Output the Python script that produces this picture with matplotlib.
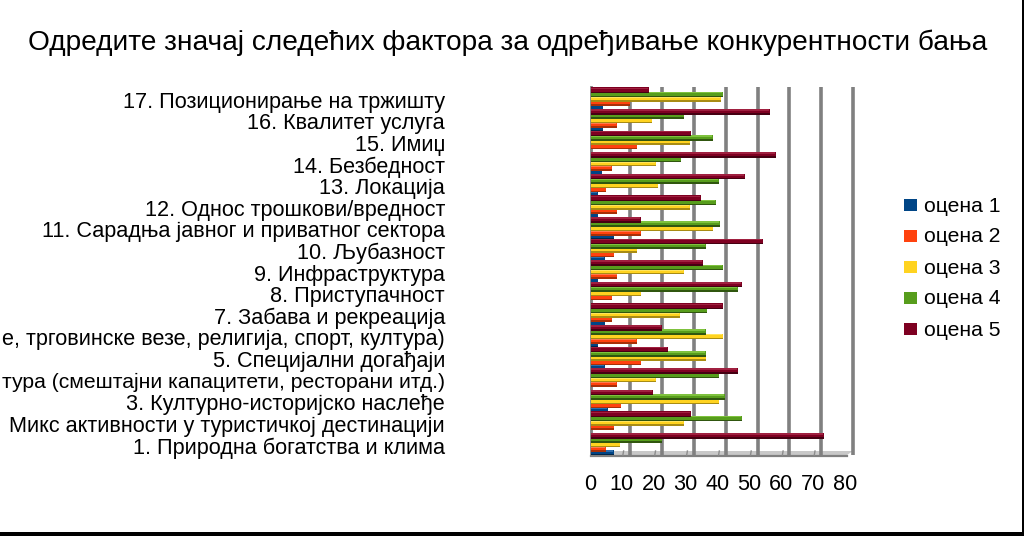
import matplotlib
matplotlib.use('Agg')
import matplotlib.pyplot as plt
from matplotlib.transforms import ScaledTranslation
import numpy as np

plt.rcParams['font.family'] = ['Liberation Sans', 'DejaVu Sans']

title = 'Одредите значај следећих фактора за одређивање конкурентности бања'
categories = [
    '1. Природна богатства и клима',
    'Микс активности у туристичкој дестинацији',
    '3. Културно-историјско наслеђе',
    'тура (смештајни капацитети, ресторани итд.)',
    '5. Специјални догађаји',
    'е, трговинске везе, религија, спорт, култура)',
    '7. Забава и рекреација',
    '8. Приступачност',
    '9. Инфраструктура',
    '10. Љубазност',
    '11. Сарадња јавног и приватног сектора',
    '12. Однос трошкови/вредност',
    '13. Локација',
    '14. Безбедност',
    '15. Имиџ',
    '16. Квалитет услуга',
    '17. Позиционирање на тржишту',
]
ocena1 = [7.2, 0, 5.4, 0, 4.4, 2.3, 4.4, 0, 2.3, 4.4, 7.2, 2.3, 2.3, 3.3, 0, 3.7, 3.7]
ocena2 = [4.7, 7.2, 9.3, 8, 15.7, 14.5, 6.7, 6.7, 8.3, 7.2, 15.7, 8, 4.7, 6.5, 14.3, 8, 12.2]
ocena3 = [9, 29.2, 40.2, 20.4, 36, 41.5, 27.9, 15.6, 29.2, 14.5, 38.1, 31, 21, 20.4, 31, 19, 40.6]
ocena4 = [22.2, 47.2, 42, 40.2, 36, 36, 36.3, 46.2, 41.5, 36, 40.4, 39.2, 40, 28.2, 38.3, 29.3, 41.5]
ocena5 = [73, 31.3, 19.3, 46.2, 24.2, 22.2, 41.5, 47.2, 35.2, 54, 15.7, 34.4, 48.3, 58, 31.3, 56, 18.2]
series = [ocena1, ocena2, ocena3, ocena4, ocena5]
names = ['оцена 1', 'оцена 2', 'оцена 3', 'оцена 4', 'оцена 5']
base = ['#004586', '#ff420e', '#ffd320', '#579d1c', '#7e0021']
dark = ['#00264a', '#a83008', '#a88c14', '#30560f', '#450012']
light = ['#2f6fae', '#ff7a4f', '#ffe45c', '#7fc23e', '#a02040']
ticks = list(range(0, 90, 10))

W, H = 1024, 536
fig = plt.figure(figsize=(W/100, H/100), dpi=100, facecolor='white')

bg = fig.add_axes([0, 0, 1, 1], zorder=0)
bg.set_xlim(0, W); bg.set_ylim(H, 0); bg.axis('off')

# plot axes: x=0 at 591 px, 31.9 px/unit; one category = 21.6 px
x0, x1, ytop, ybot = 591, 860, 87, 455
ax = fig.add_axes([x0/W, 1-ybot/H, (x1-x0)/W, (ybot-ytop)/H], zorder=1)
ax.patch.set_alpha(0)
for s in ax.spines.values():
    s.set_visible(False)

off = ScaledTranslation(7/100, 0, fig.dpi_scale_trans)
for t in ticks:
    if t == 0:
        continue
    ax.plot([t, t], [0, 1], transform=ax.get_xaxis_transform() + off, color='#808080', lw=2.6,
            solid_capstyle='butt', zorder=1, clip_on=False)
ax.plot([0, 0], [0, 1], transform=ax.get_xaxis_transform(), color='#808080', lw=2.0, zorder=1, clip_on=False)

n = len(categories)
ypos = np.arange(n)
step = 4.3/21.6     # spacing of the five bars inside a group
h = 5.6/21.6        # drawn thickness: each bar overlaps the next one down
for k, vals in enumerate(series):
    y = ypos + (k-2)*step
    ax.barh(y-0.08*h, vals, height=h, color=dark[k], zorder=3+k, linewidth=0)
    ax.barh(y+0.05*h, vals, height=0.74*h, color=base[k], zorder=3+k, linewidth=0)
    ax.barh(y+0.26*h, np.maximum(np.array(vals)-0.3, 0), height=0.3*h, color=light[k], zorder=3+k, linewidth=0)

# group i centre lies at 444 - 21.6 i px
ax.set_xlim(0, (x1-x0)/3.19)
ax.set_ylim((444-ybot)/21.6, (444-ytop)/21.6)

ax.set_yticks(ypos)
ax.set_yticklabels(categories, fontsize=15.6, color='black', ha='right')
lab_off = ScaledTranslation(-146/100, -1.5/100, fig.dpi_scale_trans)
ax.tick_params(axis='y', length=0, pad=0)
for i, lab in enumerate(ax.get_yticklabels()):
    lab.set_transform(lab.get_transform() + lab_off)
    if i == 3:
        lab.set_fontsize(15.2)

ax.set_xticks(ticks)
ax.set_xticklabels([str(t) for t in ticks], fontsize=15.6)
ax.tick_params(axis='x', length=0, pad=14)
xoff = ScaledTranslation(-1/100, 0, fig.dpi_scale_trans)
for lab in ax.get_xticklabels():
    lab.set_transform(lab.get_transform() + xoff)

# floor of the 3-D wall, with its slanted ticks
bg.fill([591, 598, 853, 847], [455, 451, 451, 455], color='#c8c8c8', lw=0)
bg.plot([591, 847], [455.5, 455.5], color='#808080', lw=1.6)
for t in ticks[:-1]:
    ax.plot([t, t + 7/31.9], [0, 4/(ybot-ytop)], transform=ax.get_xaxis_transform(),
            color='#8c8c8c', lw=1.0, zorder=2, clip_on=False)

fig.text(508/W, 1-43/H, title, fontsize=20.2, ha='center', va='center', color='black')

# legend
for k, name in enumerate(names):
    y = 204.5 + 31*k
    bg.fill([904, 917, 917, 904], [y-6, y-6, y+6, y+6], color=base[k], lw=0)
    bg.text(924, y+1.5, name, fontsize=15.2, va='center', ha='left', color='black')

# image frame
bg.fill([0, W, W, 0], [532, 532, H, H], color='black', lw=0)
bg.fill([1022, W, W, 1022], [0, 0, H, H], color='black', lw=0)

fig.savefig('out.png', dpi=100)
